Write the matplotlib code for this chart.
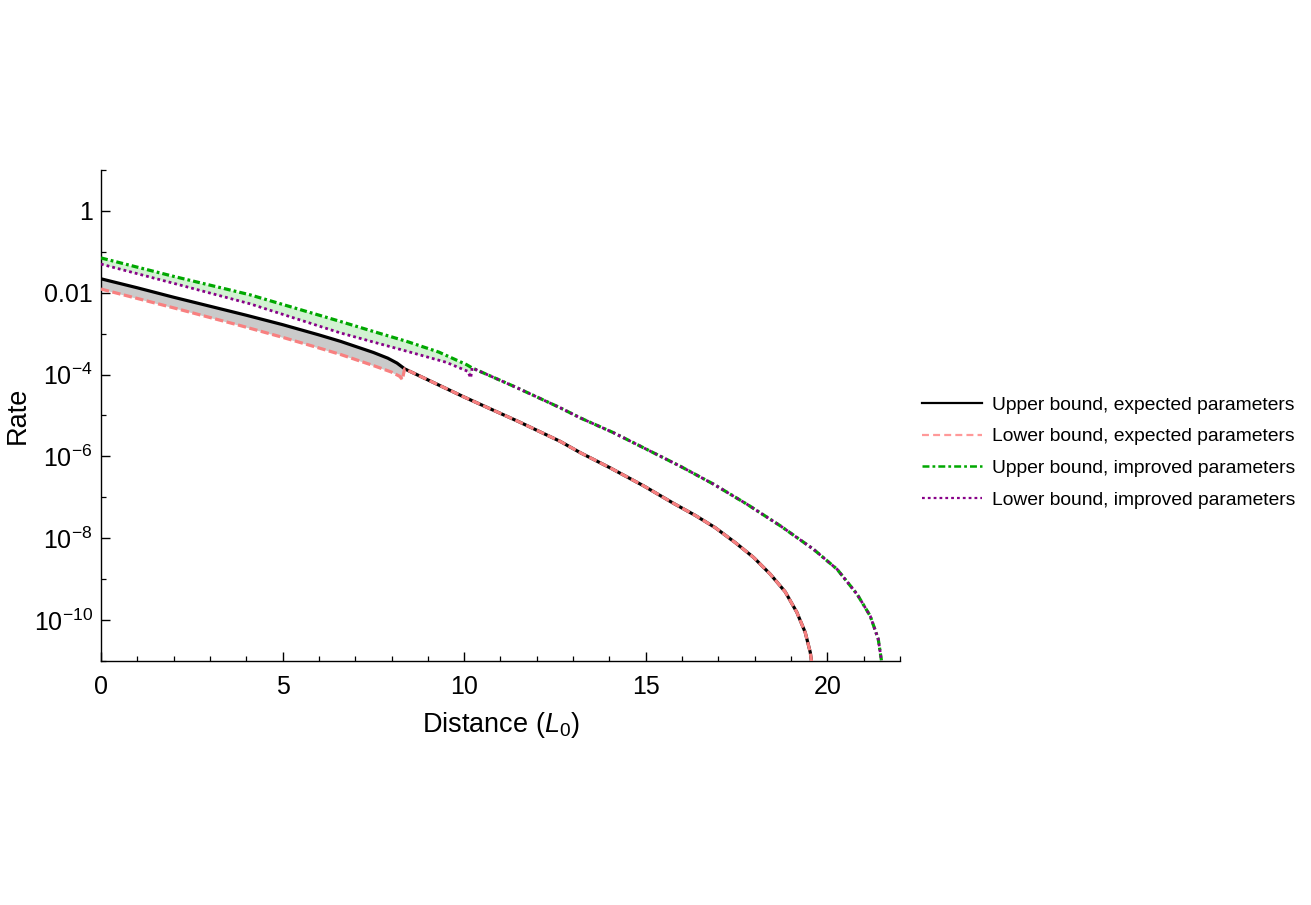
import numpy as np
import matplotlib
matplotlib.use("Agg")
import matplotlib.pyplot as plt
from matplotlib.lines import Line2D
from matplotlib.ticker import FixedLocator, FixedFormatter, NullFormatter

plt.rcParams['font.family'] = ['Liberation Sans', 'DejaVu Sans']
plt.rcParams['mathtext.fontset'] = 'custom'
plt.rcParams['mathtext.rm'] = 'Liberation Sans'
plt.rcParams['mathtext.it'] = 'Liberation Sans:italic'
plt.rcParams['lines.scale_dashes'] = False

# ---- data ----
# expected parameters, before the curves merge
exp_up_x = [0, 1, 2, 3, 4, 5, 6, 6.6, 7, 7.5, 7.9, 8.15, 8.33]
exp_up_y = [2.19e-2, 1.32e-2, 7.76e-3, 4.68e-3, 2.82e-3, 1.66e-3, 9.33e-4, 6.46e-4, 4.90e-4,
            3.47e-4, 2.51e-4, 1.91e-4, 1.45e-4]
exp_lo_x = [0, 2, 3.83, 5, 6, 6.6, 7.5, 8.0, 8.22, 8.30, 8.36]
exp_lo_y = [1.23e-2, 4.27e-3, 1.58e-3, 8.13e-4, 4.47e-4, 3.09e-4, 1.66e-4, 1.15e-4, 9.12e-5,
            7.59e-5, 1.38e-4]
# expected parameters, merged tail (both bounds coincide)
exp_tail_x = [8.36, 10.0, 11.5, 12.64, 13.20, 14.02, 14.94, 15.77, 16.36, 16.91, 17.47, 17.97,
              18.43, 18.84, 19.16, 19.39, 19.53, 19.56, 19.58]
exp_tail_y = [1.38e-4, 2.82e-5, 7.08e-6, 2.34e-6, 1.23e-6, 5.25e-7, 1.91e-7, 7.08e-8, 3.63e-8,
              1.82e-8, 7.76e-9, 3.39e-9, 1.32e-9, 4.90e-10, 1.55e-10, 5.01e-11, 1.62e-11,
              1.02e-11, 1e-12]

# improved parameters, before the curves merge
imp_up_x = [0, 2, 4.1, 6.58, 7.5, 8.42, 9.3, 9.7, 10.07, 10.22]
imp_up_y = [7.08e-2, 2.51e-2, 8.91e-3, 2.0e-3, 1.13e-3, 6.46e-4, 3.55e-4, 2.45e-4, 1.74e-4, 1.45e-4]
imp_lo_x = [0, 2, 4.1, 6.58, 7.5, 8.42, 9.5, 10.1, 10.18, 10.22]
imp_lo_y = [5.01e-2, 1.70e-2, 5.37e-3, 1.05e-3, 6.24e-4, 3.72e-4, 2.0e-4, 1.20e-4, 8.32e-5, 1.45e-4]
# improved parameters, merged tail
imp_tail_x = [10.22, 11.4, 12.64, 13.20, 14.11, 15.03, 15.95, 16.87, 17.79, 18.71, 19.62, 20.27,
              20.82, 21.18, 21.40, 21.49, 21.51]
imp_tail_y = [1.45e-4, 5.01e-5, 1.55e-5, 8.71e-6, 3.80e-6, 1.48e-6, 5.75e-7, 2.09e-7, 6.76e-8,
              2.0e-8, 5.37e-9, 1.74e-9, 4.27e-10, 1.26e-10, 3.47e-11, 1.02e-11, 1e-12]

labels = ["Upper bound, expected parameters", "Lower bound, expected parameters",
          "Upper bound, improved parameters", "Lower bound, improved parameters"]
y_major = [1, 1e-2, 1e-4, 1e-6, 1e-8, 1e-10]
y_major_labels = ["1", "0.01", r"$10^{-4}$", r"$10^{-6}$", r"$10^{-8}$", r"$10^{-10}$"]
y_minor = [10, 1e-1, 1e-3, 1e-5, 1e-7, 1e-9, 1e-11]
x_major = [0, 5, 10, 15, 20]

# ---- styles ----
c_black = "#000000"
c_pink = "#F88080"
c_green = "#00A800"
c_purple = "#880088"
ls_pink = (0, (6.0, 2.5))
ls_green = (0, (5.0, 2.2, 2.0, 2.2))
ls_purple = (0, (2.0, 2.2))

fig = plt.figure(figsize=(13.11, 9.05), dpi=100)
ax = fig.add_axes([0.077, 0.2696, 0.6095, 0.5426])

# shaded bands between bounds (common grid in log space, for the fill only)
def band(xu, yu, xl, yl, xmax):
    g = np.linspace(0, xmax, 300)
    lu = np.interp(g, xu, np.log10(yu))
    ll = np.interp(g, xl, np.log10(yl))
    return g, 10 ** lu, 10 ** ll

g, bu, bl = band(exp_up_x, exp_up_y, exp_lo_x[:-1], exp_lo_y[:-1], 8.30)
ax.fill_between(g, bl, bu, color="#CACACA", lw=0, zorder=1)
g, bu, bl = band(imp_up_x, imp_up_y, imp_lo_x[:-1], imp_lo_y[:-1], 10.18)
ax.fill_between(g, bl, bu, color="#D2F2D2", lw=0, zorder=1)

ax.plot(exp_up_x + exp_tail_x, exp_up_y + exp_tail_y, color=c_black, lw=2.3, zorder=3)
ax.plot(exp_lo_x + exp_tail_x[1:], exp_lo_y + exp_tail_y[1:], color=c_pink, lw=2.3,
        linestyle=ls_pink, zorder=4)
ax.plot(imp_up_x + imp_tail_x[1:], imp_up_y + imp_tail_y[1:], color=c_green, lw=2.3,
        linestyle=ls_green, zorder=5)
ax.plot(imp_lo_x + imp_tail_x[1:], imp_lo_y + imp_tail_y[1:], color=c_purple, lw=2.0,
        linestyle=ls_purple, zorder=6)

ax.set_yscale("log")
ax.set_xlim(0, 22)
ax.set_ylim(1e-11, 10)

ax.yaxis.set_major_locator(FixedLocator(y_major))
ax.yaxis.set_major_formatter(FixedFormatter(y_major_labels))
ax.yaxis.set_minor_locator(FixedLocator(y_minor))
ax.yaxis.set_minor_formatter(NullFormatter())
ax.xaxis.set_major_locator(FixedLocator(x_major))
ax.xaxis.set_minor_locator(FixedLocator(list(range(0, 23))))

for s in ["top", "right"]:
    ax.spines[s].set_visible(False)
for s in ["left", "bottom"]:
    ax.spines[s].set_linewidth(1.0)

ax.tick_params(which="major", direction="in", length=6.5, width=1.0, labelsize=18, pad=6)
ax.tick_params(which="minor", direction="in", length=3.6, width=0.9)
ax.tick_params(axis="x", which="major", pad=10)

ax.set_xlabel(r"Distance ($L_0$)", fontsize=19.5, labelpad=8)
ax.set_ylabel("Rate", fontsize=19.5)
ax.yaxis.set_label_coords(-0.088, 0.5)

handles = [
    Line2D([], [], color=c_black, lw=1.6),
    Line2D([], [], color="#FF9999", lw=1.6, linestyle=(0, (5.0, 3.0))),
    Line2D([], [], color=c_green, lw=1.8, linestyle=ls_green),
    Line2D([], [], color=c_purple, lw=1.6, linestyle=ls_purple),
]
fig.legend(handles, labels, loc="center left", bbox_to_anchor=(0.69, 0.500),
           frameon=False, fontsize=13.9, handlelength=3.1, handletextpad=0.55,
           labelspacing=0.74)

fig.savefig("out.png", dpi=100)
